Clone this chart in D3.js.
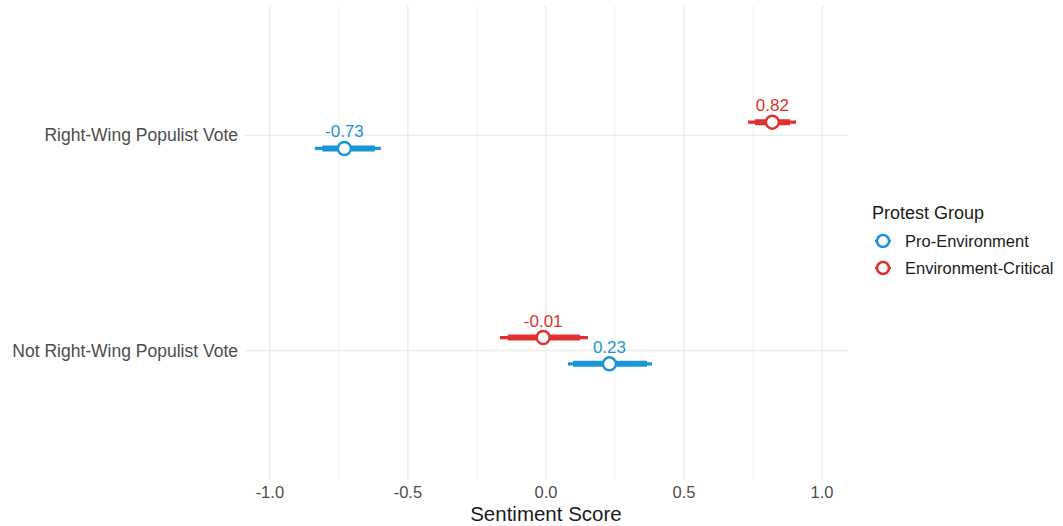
<!DOCTYPE html>
<html>
<head>
<meta charset="utf-8">
<script src="https://cdn.jsdelivr.net/npm/d3@7"></script>
<style>
  body { margin: 0; background: #fff; }
  svg { font-family: "Liberation Sans", Arial, sans-serif; }
</style>
</head>
<body>
<div id="chart"></div>
<script>
// data
const categories = ["Right-Wing Populist Vote", "Not Right-Wing Populist Vote"]
const groups = ["Pro-Environment", "Environment-Critical"]
const groupColors = ["#1c95d4", "#e0312e"]
// per group, per category
const estimates = [[-0.73, 0.23], [0.82, -0.01]]
const lower95 = [[-0.837, 0.08], [0.732, -0.167]]
const upper95 = [[-0.598, 0.384], [0.906, 0.152]]
const lower80 = [[-0.81, 0.098], [0.757, -0.138]]
const upper80 = [[-0.62, 0.366], [0.884, 0.123]]
const xTicks = [-1, -0.5, 0, 0.5, 1]
const xMinor = [-0.75, -0.25, 0.25, 0.75]

const width = 1063, height = 526
const margin = {left: 245, right: 215, top: 6, bottom: 46}

// hyphen instead of unicode minus, like the original
const locale = d3.formatLocale({decimal: ".", thousands: ",", grouping: [3], currency: ["", ""], minus: "-"})
const fmt1 = locale.format(".1f"), fmt2 = locale.format(".2f")

const svg = d3.select("#chart").append("svg")
    .attr("width", width)
    .attr("height", height)

let x = d3.scaleLinear()
    .domain([-1.09, 1.094])
    .range([margin.left, width - margin.right])

// discrete axis with ggplot-like 0.6 expansion
let y = d3.scaleLinear()
    .domain([2.6, 0.4])
    .range([margin.top, height - margin.bottom])
let yPos = c => 2 - categories.indexOf(c)
const dodge = 0.061

// grid
let grid = svg.append("g")
grid.selectAll(".minor").data(xMinor).join("line")
    .attr("x1", d => x(d)).attr("x2", d => x(d))
    .attr("y1", y(2.6)).attr("y2", y(0.4))
    .attr("stroke", "#f0f0f0").attr("stroke-width", 1)
grid.selectAll(".major").data(xTicks).join("line")
    .attr("x1", d => x(d)).attr("x2", d => x(d))
    .attr("y1", y(2.6)).attr("y2", y(0.4))
    .attr("stroke", "#e6e6e6").attr("stroke-width", 1.2)
grid.selectAll(".hmajor").data(categories).join("line")
    .attr("x1", x.range()[0]).attr("x2", x.range()[1])
    .attr("y1", d => y(yPos(d))).attr("y2", d => y(yPos(d)))
    .attr("stroke", "#e6e6e6").attr("stroke-width", 1.2)

// x axis labels
svg.append("g")
    .attr("font-size", 16.5)
    .attr("fill", "#4d4d4d")
    .attr("text-anchor", "middle")
    .selectAll("text").data(xTicks).join("text")
    .attr("x", d => x(d))
    .attr("y", y(0.4) + 18)
    .text(fmt1)

svg.append("text")
    .attr("x", x(0))
    .attr("y", height - 5)
    .attr("text-anchor", "middle")
    .attr("font-size", 20.5)
    .attr("fill", "#1a1a1a")
    .text("Sentiment Score")

// y labels
svg.append("g")
    .attr("font-size", 17.5)
    .attr("fill", "#4d4d4d")
    .attr("text-anchor", "end")
    .selectAll("text").data(categories).join("text")
    .attr("x", margin.left - 7)
    .attr("y", d => y(yPos(d)))
    .attr("dy", "0.35em")
    .text(d => d)

// point ranges
let rows = []
groups.forEach((g, gi) => {
    categories.forEach((c, ci) => {
        // dodge: blue below, red above
        let off = gi === 0 ? -dodge : dodge
        rows.push({g: gi, yv: yPos(c) + off, est: estimates[gi][ci],
            lo95: lower95[gi][ci], hi95: upper95[gi][ci],
            lo80: lower80[gi][ci], hi80: upper80[gi][ci]})
    })
})

let marks = svg.append("g")
marks.selectAll(".thin").data(rows).join("line")
    .attr("x1", d => x(d.lo95)).attr("x2", d => x(d.hi95))
    .attr("y1", d => y(d.yv)).attr("y2", d => y(d.yv))
    .attr("stroke", d => groupColors[d.g]).attr("stroke-width", 3.2)
marks.selectAll(".thick").data(rows).join("line")
    .attr("x1", d => x(d.lo80)).attr("x2", d => x(d.hi80))
    .attr("y1", d => y(d.yv)).attr("y2", d => y(d.yv))
    .attr("stroke", d => groupColors[d.g]).attr("stroke-width", 6)
marks.selectAll("circle").data(rows).join("circle")
    .attr("cx", d => x(d.est)).attr("cy", d => y(d.yv))
    .attr("r", 6.5)
    .attr("fill", "white")
    .attr("stroke", d => groupColors[d.g]).attr("stroke-width", 2.5)
marks.selectAll("text").data(rows).join("text")
    .attr("x", d => x(d.est)).attr("y", d => y(d.yv) - 11)
    .attr("text-anchor", "middle")
    .attr("font-size", 17)
    .attr("fill", d => groupColors[d.g])
    .text(d => fmt2(d.est))

// legend
let legend = svg.append("g").attr("transform", "translate(872,0)")
legend.append("text")
    .attr("x", 0).attr("y", 219)
    .attr("font-size", 18)
    .attr("fill", "#1a1a1a")
    .text("Protest Group")
let items = legend.selectAll(".item").data(groups).join("g")
    .attr("transform", (d, i) => `translate(0,${241 + i * 27})`)
items.append("line")
    .attr("x1", 3).attr("x2", 19)
    .attr("stroke", (d, i) => groupColors[i]).attr("stroke-width", 2.5)
items.append("circle")
    .attr("cx", 11).attr("r", 6)
    .attr("fill", "white")
    .attr("stroke", (d, i) => groupColors[i]).attr("stroke-width", 2.5)
items.append("text")
    .attr("x", 33).attr("dy", "0.35em")
    .attr("font-size", 16.5)
    .attr("fill", "#1a1a1a")
    .text(d => d)
</script>
</body>
</html>
